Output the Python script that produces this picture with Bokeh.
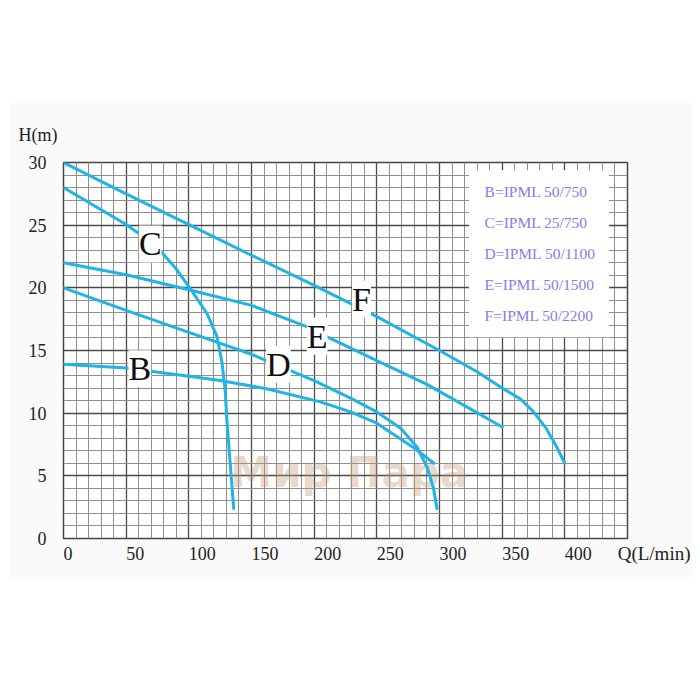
from bokeh.plotting import figure
from bokeh.models import FixedTicker, Label, BoxAnnotation, ColumnDataSource, Spacer, Title
from bokeh.layouts import column, row
from bokeh.core.properties import value
from bokeh.embed import file_html
from bokeh.resources import INLINE

# ---------------- data ----------------
x_ticks = [0, 50, 100, 150, 200, 250, 300, 350, 400]
y_ticks = [0, 5, 10, 15, 20, 25, 30]

B_q = [0, 50, 100, 125, 162, 205, 229, 250, 280, 295.5]
B_h = [13.9, 13.6, 12.95, 12.6, 11.95, 10.9, 10.1, 9.2, 7.2, 6.0]

C_q = [0, 50, 64, 76, 90, 101, 114.5, 122.5, 126.5, 129, 130.5, 133, 135.8]
C_h = [28.0, 25.05, 24.05, 23.1, 21.5, 19.95, 17.95, 16.1, 14.0, 11.8, 9.2, 6.0, 2.4]

D_q = [0, 50, 100, 150, 200, 229, 250, 269, 282, 290, 295, 298]
D_h = [20.0, 18.2, 16.45, 14.7, 12.6, 11.2, 10.1, 8.8, 7.3, 5.7, 4.1, 2.4]

E_q = [0, 50, 100, 150, 194, 210, 250, 290, 320, 350]
E_h = [22.0, 21.05, 19.85, 18.6, 16.9, 16.1, 14.2, 12.3, 10.6, 8.9]

F_q = [0, 50, 100, 150, 200, 250, 300, 330, 350, 365, 375, 385, 393, 400]
F_h = [30.0, 27.5, 25.05, 22.6, 20.2, 17.7, 15.0, 13.3, 12.0, 11.1, 10.1, 8.8, 7.4, 6.0]

curve_names = ["B", "C", "D", "E", "F"]
label_x = [60.9, 69.2, 171.5, 202.4, 237.8]
label_y = [13.55, 23.5, 13.9, 16.15, 19.1]

legend_items = ["B=IPML 50/750", "C=IPML 25/750", "D=IPML 50/1100",
                "E=IPML 50/1500", "F=IPML 50/2200"]

y_title = "H(m)"
x_title = "Q(L/min)"

# ---------------- styles / layout ----------------
CURVE = "#1eb4e6"
SERIF = "Liberation Serif"
PX_PER_UNIT = 564 / 450.0     # frame width / x span

p = figure(width=682, height=476, x_range=(0, 450), y_range=(0, 30),
           output_backend="svg", toolbar_location=None,
           min_border_left=53, min_border_right=65,
           min_border_top=60, min_border_bottom=40,
           background_fill_color="white", border_fill_color="#fafafa")

x_minor = [v for v in range(0, 451, 10) if v % 50]
y_minor = [v for v in range(0, 31) if v % 5]

# tick labels in the original start at the grid line (left aligned):
# place each label's centre half a label width to the right of its line
lab_pos = [round(t + len(str(t)) * 4.5 / PX_PER_UNIT, 3) for t in x_ticks]
p.xaxis.ticker = FixedTicker(ticks=lab_pos, minor_ticks=[])
p.xaxis.major_label_overrides = {pos: str(t) for pos, t in zip(lab_pos, x_ticks)}
yt = FixedTicker(ticks=y_ticks, minor_ticks=y_minor)
p.yaxis.ticker = yt
p.xgrid.ticker = FixedTicker(ticks=x_ticks + [450], minor_ticks=x_minor)
p.ygrid.ticker = yt

for g in (p.xgrid, p.ygrid):
    g.grid_line_color = "#4a4a4a"
    g.grid_line_width = 1.3
    g.minor_grid_line_color = "#8e8e8e"
    g.minor_grid_line_width = 1

p.outline_line_color = "#444444"
p.outline_line_width = 1.5

for ax in (p.xaxis, p.yaxis):
    ax.axis_line_color = None
    ax.major_tick_line_color = None
    ax.minor_tick_line_color = None
    ax.major_tick_out = 0
    ax.major_tick_in = 0
    ax.major_label_text_font = SERIF
    ax.major_label_text_font_size = "18px"
    ax.major_label_text_color = "#222222"
p.xaxis.major_label_standoff = 8
p.yaxis.major_label_standoff = 13

# axis titles
p.add_layout(Title(text=y_title, align="left", offset=-45, text_font=SERIF,
                   text_font_size="18px", text_font_style="normal",
                   text_color="#222222", standoff=36), "above")
p.add_layout(Title(text=x_title, align="right", offset=-63, text_font=SERIF,
                   text_font_size="19px", text_font_style="normal",
                   text_color="#222222", vertical_align="top", standoff=-40), "below")

# legend box (white panel over the grid)
p.add_layout(BoxAnnotation(left=323.5, right=435.3, bottom=16.06, top=29.39,
                           fill_color="white", fill_alpha=1, line_color=None,
                           level="underlay"))

# watermark
p.text(x=[228], y=[5.3], text=["Мир Пара"], text_font=value("DejaVu Sans"),
       text_font_style="bold", text_font_size="42px", text_color="#c49a78",
       text_alpha=0.4, text_align="center", text_baseline="middle")

# curves
for q, h in [(B_q, B_h), (C_q, C_h), (D_q, D_h), (E_q, E_h), (F_q, F_h)]:
    p.line(q, h, line_color=CURVE, line_width=3, line_join="round", line_cap="round")

# curve letters
for name, lx, ly in zip(curve_names, label_x, label_y):
    p.add_layout(Label(x=lx, y=ly, text=name, text_font=SERIF, text_font_size="34px",
                       text_color="#111111", text_align="center", text_baseline="middle",
                       background_fill_color="white", background_fill_alpha=1))

# legend texts
leg_top, leg_step = 27.65, 2.46
leg_src = ColumnDataSource(dict(
    x=[336] * len(legend_items),
    y=[leg_top - i * leg_step for i in range(len(legend_items))],
    t=legend_items))
p.text(x="x", y="y", text="t", source=leg_src, text_font=value(SERIF),
       text_font_size="15.5px", text_color="#8080ee", text_baseline="middle",
       text_align="left")

layout = column(Spacer(width=692, height=102),
                row(Spacer(width=10, height=476), p))
open("out.html", "w").write(file_html(layout, INLINE))
